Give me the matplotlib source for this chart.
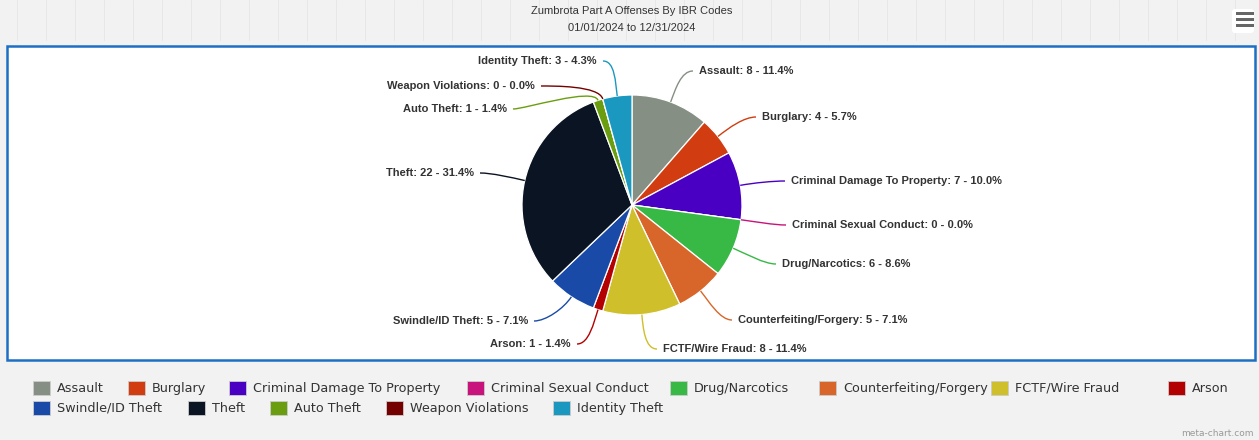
import matplotlib.pyplot as plt
import numpy as np
from matplotlib.patches import Rectangle, FancyBboxPatch, PathPatch
from matplotlib.path import Path

W, H = 1259, 440

categories = ['Assault', 'Burglary', 'Criminal Damage To Property', 'Criminal Sexual Conduct',
              'Drug/Narcotics', 'Counterfeiting/Forgery', 'FCTF/Wire Fraud', 'Arson',
              'Swindle/ID Theft', 'Theft', 'Auto Theft', 'Weapon Violations', 'Identity Theft']
counts = [8, 4, 7, 0, 6, 5, 8, 1, 5, 22, 1, 0, 3]
colors = ['#858f83', '#d13d10', '#4a00c2', '#c8137c', '#38b845', '#d8662a', '#cfbf2a',
          '#b30000', '#1a4aa8', '#0a1422', '#6a9e10', '#740000', '#1a98c0']

# label text anchor (pixels, from top-left of the image)
label_pos = [(699, 71), (762, 117), (791, 181), (792, 225), (782, 264), (738, 320),
             (663, 349), (571, 344), (528, 321), (474, 173), (507, 109), (535, 86), (597, 61)]

# legend layout (patch left x, row y)
legend_pos = [(33, 388), (128, 388), (229, 388), (467, 388), (670, 388), (819, 388),
              (991, 388), (1168, 388), (33, 408), (188, 408), (270, 408), (386, 408), (553, 408)]

fig = plt.figure(figsize=(W / 100, H / 100), dpi=100, facecolor='#f2f2f2')
ax = fig.add_axes([0, 0, 1, 1])

def Y(y):
    return H - y

# faint page grid behind the title
for gx in range(17, W, 29):
    ax.plot([gx, gx], [Y(0), Y(40)], color='#e6e6e6', linewidth=0.6, zorder=0)

# plot area
ax.add_patch(Rectangle((7, Y(360)), 1248, 314, facecolor='white',
                       edgecolor='#1c6fc4', linewidth=1.8, zorder=1))

cx, cy, r = 632, Y(205), 110
total = sum(counts)
wedges, _ = ax.pie(counts, colors=colors, startangle=90, counterclock=False,
                   center=(cx, cy), radius=r, frame=True,
                   wedgeprops=dict(edgecolor='white', linewidth=0.9, zorder=3))

# labels with connectors
cum = 0
for name, v, col, (lx, ly) in zip(categories, counts, colors, label_pos):
    mid = np.deg2rad(90 - 360 * (cum + v / 2) / total)
    cum += v
    ex, ey = cx + r * np.cos(mid), cy + r * np.sin(mid)
    right = lx > cx
    ax_x = lx - 6 if right else lx + 6
    ay = Y(ly)
    txt = f'{name}: {v} - {100 * v / total:.1f}%'
    ax.text(lx, ay, txt, ha='left' if right else 'right', va='center',
            fontsize=8.0, fontweight='bold', color='#333333',
            family='Liberation Sans', zorder=5)
    d = -12 if right else 12
    verts = [(ax_x, ay), (ax_x + d, ay),
             (ex + 14 * np.cos(mid), ey + 14 * np.sin(mid)), (ex, ey)]
    path = Path(verts, [Path.MOVETO, Path.CURVE4, Path.CURVE4, Path.CURVE4])
    ax.add_patch(PathPatch(path, facecolor='none', edgecolor=col, linewidth=1.0, zorder=4))

# title
ax.text(632, Y(11), 'Zumbrota Part A Offenses By IBR Codes', ha='center', va='center',
        fontsize=8.0, color='#333333', family='Liberation Sans')
ax.text(632, Y(28), '01/01/2024 to 12/31/2024', ha='center', va='center',
        fontsize=8.0, color='#333333', family='Liberation Sans')

# legend
for name, col, (px, py) in zip(categories, colors, legend_pos):
    ax.add_patch(Rectangle((px, Y(py) - 7), 17, 14, facecolor=col,
                           edgecolor='#cccccc', linewidth=0.6))
    ax.text(px + 24, Y(py), name, ha='left', va='center', fontsize=9.2,
            color='#333333', family='DejaVu Sans')

# menu button
ax.add_patch(FancyBboxPatch((1232, Y(33)), 22, 24, boxstyle='round,pad=0,rounding_size=3',
                            facecolor='white', edgecolor='none'))
for by in (13, 19, 25):
    ax.add_patch(Rectangle((1236, Y(by) - 1.5), 18, 3, facecolor='#666666', edgecolor='none'))

ax.text(1254, Y(433), 'meta-chart.com', ha='right', va='center', fontsize=6.5,
        color='#999999', family='DejaVu Sans')

ax.set_xlim(0, W)
ax.set_ylim(0, H)
ax.set_aspect('auto')
ax.axis('off')

fig.savefig('out.png', dpi=100, facecolor=fig.get_facecolor())
